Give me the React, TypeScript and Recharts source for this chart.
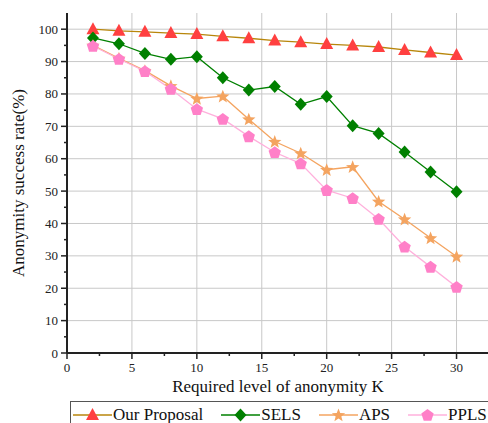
import React from "react";
import { LineChart, Line, XAxis, YAxis, ReferenceLine, Legend, Label } from "recharts";

const kValues = [2, 4, 6, 8, 10, 12, 14, 16, 18, 20, 22, 24, 26, 28, 30];
const ourProposal = [100, 99.5, 99.2, 98.8, 98.5, 97.8, 97.2, 96.5, 96, 95.4, 95, 94.5, 93.6, 92.8, 92];
const sels = [97.3, 95.5, 92.5, 90.7, 91.5, 85, 81.2, 82.3, 76.8, 79.2, 70.2, 67.8, 62.1, 55.9, 49.8];
const aps = [95, 91, 87.2, 82.5, 78.6, 79.3, 72.2, 65.3, 61.7, 56.6, 57.5, 46.8, 41.3, 35.5, 29.8];
const ppls = [94.8, 90.8, 87, 81.5, 75.3, 72.3, 66.9, 62, 58.5, 50.3, 47.8, 41.4, 32.8, 26.6, 20.4];

const xTicks = [0, 2.5, 5, 7.5, 10, 12.5, 15, 17.5, 20, 22.5, 25, 27.5, 30, 32.5];
const xMajor = [0, 5, 10, 15, 20, 25, 30];
const yTicks = [0, 5, 10, 15, 20, 25, 30, 35, 40, 45, 50, 55, 60, 65, 70, 75, 80, 85, 90, 95, 100];
const yMajor = [0, 10, 20, 30, 40, 50, 60, 70, 80, 90, 100];

const series = [
  { key: "ours", name: "Our Proposal", values: ourProposal, line: "#b8860b", fill: "#ff4040", shape: "triangle" },
  { key: "sels", name: "SELS", values: sels, line: "#008000", fill: "#008000", shape: "diamond" },
  { key: "aps", name: "APS", values: aps, line: "#f4a460", fill: "#f4a460", shape: "star" },
  { key: "ppls", name: "PPLS", values: ppls, line: "#ffb0dc", fill: "#ff80c8", shape: "pentagon" },
];

const data = kValues.map((k, i) => {
  const row: Record<string, number> = { k };
  series.forEach((s) => (row[s.key] = s.values[i]));
  return row;
});

const FONT = "Liberation Serif, serif";

function polygon(cx: number, cy: number, n: number, r: number, inner?: number) {
  const pts: string[] = [];
  const count = inner ? n * 2 : n;
  for (let i = 0; i < count; i++) {
    const rr = inner && i % 2 === 1 ? inner : r;
    const a = -Math.PI / 2 + (i * 2 * Math.PI) / count;
    pts.push(`${cx + rr * Math.cos(a)},${cy + rr * Math.sin(a)}`);
  }
  return pts.join(" ");
}

function Marker({ cx, cy, shape, fill }: { cx: number; cy: number; shape: string; fill: string }) {
  if (cx == null || cy == null) return null;
  let pts = "";
  if (shape === "triangle") pts = `${cx},${cy - 7} ${cx + 6.5},${cy + 5} ${cx - 6.5},${cy + 5}`;
  if (shape === "diamond") pts = `${cx},${cy - 6.5} ${cx + 6},${cy} ${cx},${cy + 6.5} ${cx - 6},${cy}`;
  if (shape === "star") pts = polygon(cx, cy + 0.5, 5, 7, 3);
  if (shape === "pentagon") pts = polygon(cx, cy + 0.5, 5, 6.5);
  return <polygon points={pts} fill={fill} stroke="none" />;
}

function AxisTick(props: any) {
  const { x, y, payload, side } = props;
  const v = payload.value;
  const isX = side === "bottom" || side === "top";
  const major = isX ? xMajor.includes(v) : yMajor.includes(v);
  const len = major ? 6 : 3;
  if (side === "bottom") {
    return (
      <g>
        <line x1={x} y1={y} x2={x} y2={y + len} stroke="#222" strokeWidth={1.5} />
        {major && (
          <text x={x} y={y + 19} textAnchor="middle" fontSize={13} style={{ fontFamily: FONT }} fill="#222">
            {v}
          </text>
        )}
      </g>
    );
  }
  if (side === "top") {
    return <line x1={x} y1={y} x2={x} y2={y + len} stroke="#222" strokeWidth={1.5} />;
  }
  if (side === "left") {
    return (
      <g>
        <line x1={x} y1={y} x2={x - len} y2={y} stroke="#222" strokeWidth={1.5} />
        {major && (
          <text x={x - 9} y={y + 4.5} textAnchor="end" fontSize={13} style={{ fontFamily: FONT }} fill="#222">
            {v}
          </text>
        )}
      </g>
    );
  }
  return <line x1={x} y1={y} x2={x - len} y2={y} stroke="#222" strokeWidth={1.5} />;
}

function LegendBox() {
  return (
    <div
      style={{
        display: "flex",
        alignItems: "center",
        border: "1px solid #555",
        height: 28,
        paddingLeft: 2,
        width: 440,
        fontFamily: FONT,
        fontSize: 17,
        color: "#111",
        background: "#fff",
        boxSizing: "border-box",
        whiteSpace: "nowrap",
      }}
    >
      {series.map((s) => (
        <div key={s.key} style={{ display: "flex", alignItems: "center", marginRight: 18 }}>
          <svg width={39} height={20}>
            <line x1={0} y1={10} x2={39} y2={10} stroke={s.line} strokeWidth={1.3} />
            <Marker cx={19.5} cy={10} shape={s.shape} fill={s.fill} />
          </svg>
          <span style={{ marginLeft: 1 }}>{s.name}</span>
        </div>
      ))}
    </div>
  );
}

export default function App() {
  return (
    <div
      style={{
        position: "absolute",
        left: 0,
        top: 0,
        width: 488,
        height: 423,
        overflow: "hidden",
        background: "#fff",
        fontFamily: FONT,
      }}
    >
      <LineChart width={492} height={423} data={data} margin={{ top: 13, right: 3, left: 0, bottom: 0 }}>
        {xMajor.slice(1).map((v) => (
          <ReferenceLine key={`gx${v}`} x={v} xAxisId="bottom" yAxisId="left" stroke="#c8c8c8" strokeWidth={1} />
        ))}
        {yMajor.slice(1).map((v) => (
          <ReferenceLine key={`gy${v}`} y={v} xAxisId="bottom" yAxisId="left" stroke="#c8c8c8" strokeWidth={1} />
        ))}
        <XAxis
          xAxisId="bottom"
          dataKey="k"
          type="number"
          domain={[0, 32.5]}
          ticks={xTicks}
          interval={0}
          height={70}
          tickSize={0}
          tickMargin={0}
          tickLine={false}
          axisLine={{ stroke: "#222", strokeWidth: 2 }}
          tick={<AxisTick side="bottom" />}
        >
          <Label
            content={({ viewBox }: any) => (
              <text
                x={viewBox.x + viewBox.width / 2}
                y={viewBox.y + 39}
                textAnchor="middle"
                fontSize={17}
                style={{ fontFamily: FONT }}
                fill="#111"
              >
                Required level of anonymity K
              </text>
            )}
          />
        </XAxis>
        <XAxis
          xAxisId="top"
          orientation="top"
          dataKey="k"
          type="number"
          domain={[0, 32.5]}
          ticks={xTicks}
          interval={0}
          height={0}
          mirror
          tickSize={0}
          tickMargin={0}
          tickLine={false}
          axisLine={{ stroke: "#222", strokeWidth: 2 }}
          tick={<AxisTick side="top" />}
        />
        <YAxis
          yAxisId="left"
          type="number"
          domain={[0, 105]}
          ticks={yTicks}
          interval={0}
          width={67}
          tickSize={0}
          tickMargin={0}
          tickLine={false}
          axisLine={{ stroke: "#222", strokeWidth: 2 }}
          tick={<AxisTick side="left" />}
        >
          <Label
            content={({ viewBox }: any) => {
              const x = 18;
              const y = viewBox.y + viewBox.height / 2;
              return (
                <text
                  x={x}
                  y={y}
                  transform={`rotate(-90 ${x} ${y})`}
                  textAnchor="middle"
                  dominantBaseline="central"
                  fontSize={17}
                  style={{ fontFamily: FONT }}
                  fill="#111"
                >
                  Anonymity success rate(%)
                </text>
              );
            }}
          />
        </YAxis>
        <YAxis
          yAxisId="right"
          orientation="right"
          type="number"
          domain={[0, 105]}
          ticks={yTicks}
          interval={0}
          width={0}
          mirror
          tickSize={0}
          tickMargin={0}
          tickLine={false}
          axisLine={{ stroke: "#222", strokeWidth: 2 }}
          tick={<AxisTick side="right" />}
        />
        {series.map((s) => (
          <Line
            key={s.key}
            xAxisId="bottom"
            yAxisId="left"
            dataKey={s.key}
            name={s.name}
            stroke={s.line}
            strokeWidth={1.3}
            isAnimationActive={false}
            dot={(p: any) => <Marker key={`${s.key}-${p.index}`} cx={p.cx} cy={p.cy} shape={s.shape} fill={s.fill} />}
            activeDot={false}
          />
        ))}
        <Legend
          layout="horizontal"
          verticalAlign="middle"
          align="center"
          content={() => <LegendBox />}
          wrapperStyle={{ top: 401, left: 70, width: 440, height: 28 }}
        />
      </LineChart>
    </div>
  );
}
